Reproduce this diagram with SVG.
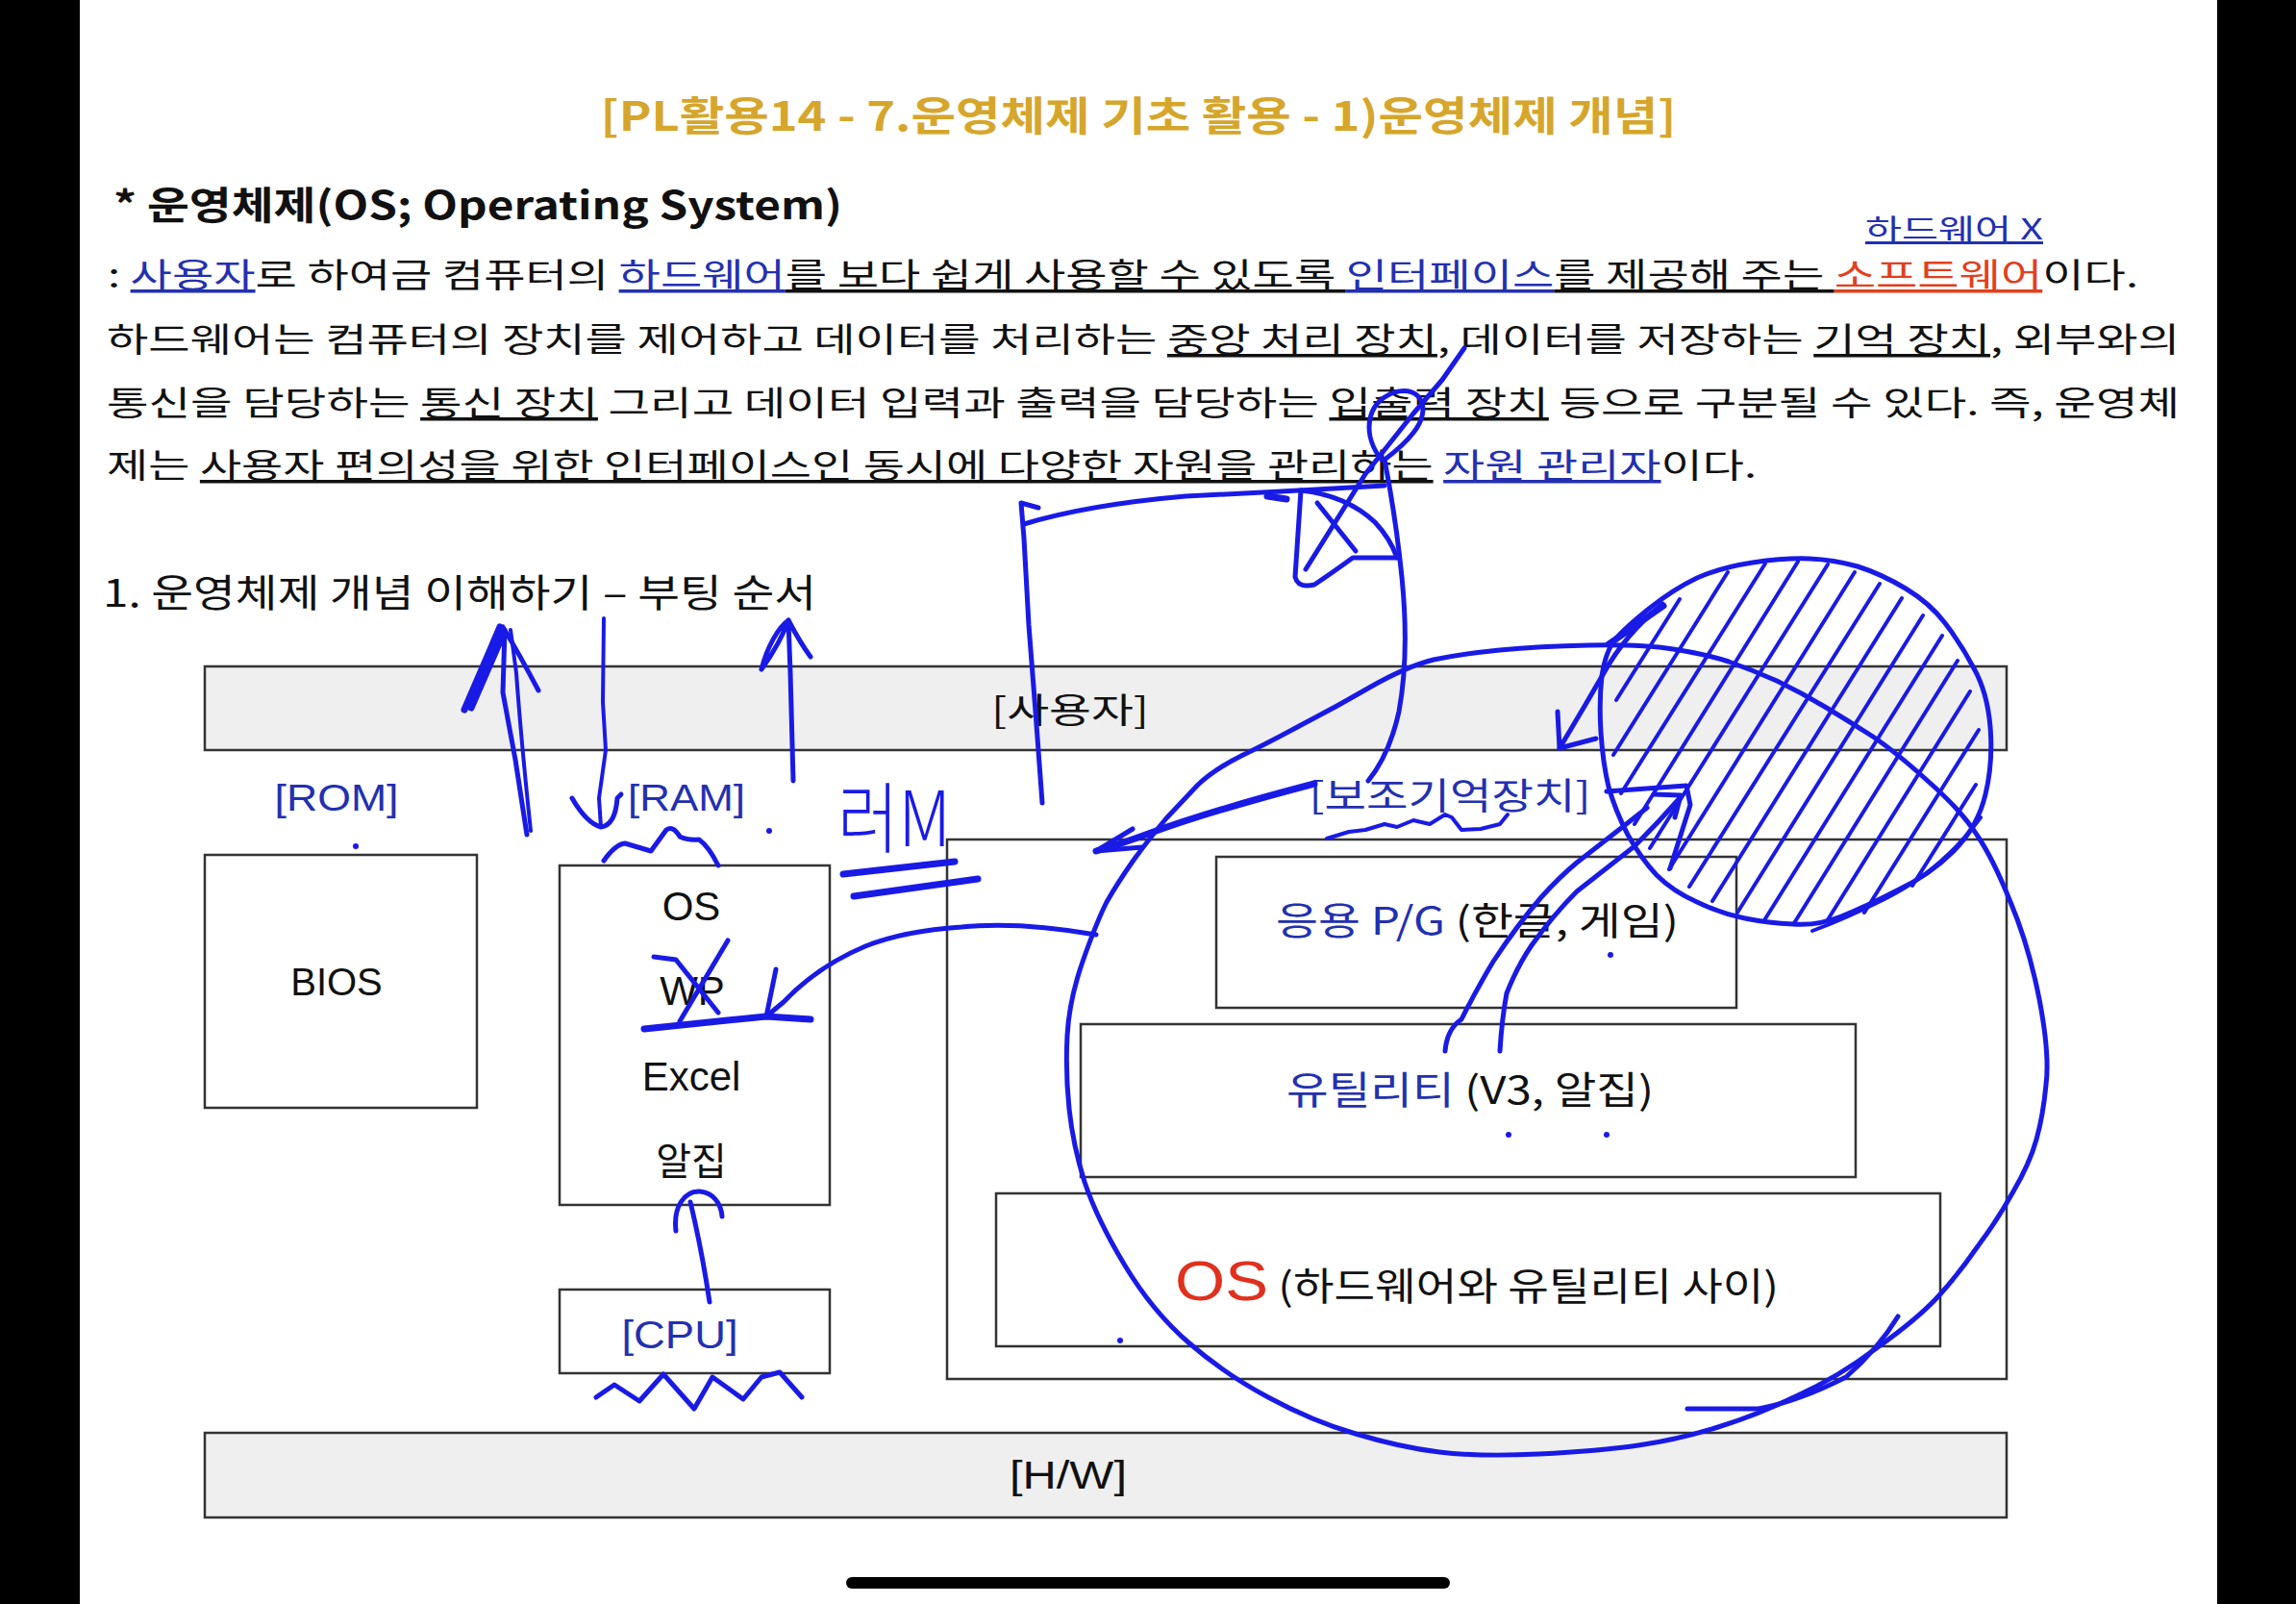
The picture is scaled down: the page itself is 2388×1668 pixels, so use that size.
<svg xmlns="http://www.w3.org/2000/svg" width="2388" height="1668" viewBox="0 0 2388 1668">
<style>
.kr{font-family:"Noto Sans CJK KR","Noto Sans",sans-serif;}
.lat{font-family:"Liberation Sans","Noto Sans CJK KR",sans-serif;}
.box{fill:#ffffff;stroke:#333333;stroke-width:2.5;}
.bar{fill:#efefef;stroke:#333333;stroke-width:2.5;}
.lbl{fill:#2330b0;}
.blk{fill:#111111;}
.u{text-decoration:underline;}
.pen{fill:none;stroke:#1a1ae6;stroke-width:5;stroke-linecap:round;stroke-linejoin:round;}
.thick{stroke-width:7;}
.thin{stroke-width:4;}
.dot{fill:#1a1ae6;}
</style>
<rect x="0" y="0" width="2388" height="1668" fill="#ffffff"/>
<rect x="0" y="0" width="83" height="1668" fill="#000000"/>
<rect x="2306" y="0" width="82" height="1668" fill="#000000"/>

<g id="title">
<text class="kr" x="1184" y="136" text-anchor="middle" font-size="42" font-weight="700" fill="#d6a62c" textLength="1119" lengthAdjust="spacingAndGlyphs">[PL활용14 - 7.운영체제 기초 활용 - 1)운영체제 개념]</text>
</g>

<g id="heading">
<text class="kr blk" x="118" y="228" font-size="40" font-weight="700" textLength="758" lengthAdjust="spacingAndGlyphs">* 운영체제(OS; Operating System)</text>
<text class="kr u" x="1940" y="249" font-size="30" fill="#2330b0" textLength="185" lengthAdjust="spacingAndGlyphs">하드웨어 X</text>
</g>

<g id="paragraph" class="kr" font-size="35">
<text x="112" y="299" textLength="2112" lengthAdjust="spacingAndGlyphs" fill="#111"><tspan>: </tspan><tspan class="u" fill="#2330b0">사용자</tspan><tspan>로 하여금 컴퓨터의 </tspan><tspan class="u" fill="#2330b0">하드웨어</tspan><tspan class="u">를 보다 쉽게 사용할 수 있도록 </tspan><tspan class="u" fill="#2330b0">인터페이스</tspan><tspan class="u">를 제공해 주는 </tspan><tspan class="u" fill="#e0401e">소프트웨어</tspan><tspan>이다.</tspan></text>
<text x="111" y="366" textLength="2156" lengthAdjust="spacingAndGlyphs" fill="#111"><tspan>하드웨어는 컴퓨터의 장치를 제어하고 데이터를 처리하는 </tspan><tspan class="u">중앙 처리 장치</tspan><tspan>, 데이터를 저장하는 </tspan><tspan class="u">기억 장치</tspan><tspan>, 외부와의</tspan></text>
<text x="111" y="432" textLength="2156" lengthAdjust="spacingAndGlyphs" fill="#111"><tspan>통신을 담당하는 </tspan><tspan class="u">통신 장치</tspan><tspan> 그리고 데이터 입력과 출력을 담당하는 </tspan><tspan class="u">입출력 장치</tspan><tspan> 등으로 구분될 수 있다. 즉, 운영체</tspan></text>
<text x="111" y="497" textLength="1716" lengthAdjust="spacingAndGlyphs" fill="#111"><tspan>제는 </tspan><tspan class="u">사용자 편의성을 위한 인터페이스인 동시에 다양한 자원을 관리하는</tspan><tspan> </tspan><tspan class="u" fill="#2330b0">자원 관리자</tspan><tspan>이다.</tspan></text>
</g>

<g id="section">
<text class="kr blk" x="107" y="631" font-size="40" textLength="742" lengthAdjust="spacingAndGlyphs">1. 운영체제 개념 이해하기 – 부팅 순서</text>
</g>

<g id="user-bar">
<rect class="bar" x="213" y="693" width="1874" height="87"/>
<text class="kr blk" x="1113" y="752" font-size="36" text-anchor="middle" textLength="164" lengthAdjust="spacingAndGlyphs">[사용자]</text>
</g>

<g id="rom">
<text class="lat lbl" x="350" y="843" font-size="38" text-anchor="middle" textLength="129" lengthAdjust="spacingAndGlyphs">[ROM]</text>
<rect class="box" x="213" y="889" width="283" height="263"/>
<text class="lat blk" x="350" y="1035" font-size="40" text-anchor="middle">BIOS</text>
</g>

<g id="ram">
<text class="lat lbl" x="714" y="843" font-size="38" text-anchor="middle" textLength="122" lengthAdjust="spacingAndGlyphs">[RAM]</text>
<rect class="box" x="582" y="900" width="281" height="353"/>
<text class="lat blk" x="719" y="957" font-size="42" text-anchor="middle">OS</text>
<text class="lat blk" x="720" y="1045" font-size="42" text-anchor="middle">WP</text>
<text class="lat blk" x="719" y="1134" font-size="42" text-anchor="middle">Excel</text>
<text class="kr blk" x="719" y="1222" font-size="40" text-anchor="middle">알집</text>
</g>

<g id="cpu">
<rect class="box" x="582" y="1341" width="281" height="87"/>
<text class="lat lbl" x="707" y="1402" font-size="40" text-anchor="middle" textLength="121" lengthAdjust="spacingAndGlyphs">[CPU]</text>
</g>

<g id="storage">
<text class="kr lbl" x="1508" y="841" font-size="38" text-anchor="middle" textLength="293" lengthAdjust="spacingAndGlyphs">[보조기억장치]</text>
<rect class="box" x="985" y="873" width="1102" height="561"/>
</g>

<g id="app">
<rect class="box" x="1265" y="891" width="541" height="157"/>
<text class="kr" x="1327" y="972" font-size="40" textLength="419" lengthAdjust="spacingAndGlyphs"><tspan fill="#2330b0">응용 P/G </tspan><tspan fill="#111">(한글, 게임)</tspan></text>
</g>

<g id="utility">
<rect class="box" x="1124" y="1065" width="806" height="159"/>
<text class="kr" x="1338" y="1148" font-size="40" textLength="382" lengthAdjust="spacingAndGlyphs"><tspan fill="#2330b0">유틸리티 </tspan><tspan fill="#111">(V3, 알집)</tspan></text>
</g>

<g id="os">
<rect class="box" x="1036" y="1241" width="982" height="159"/>
<text x="1222" y="1352" textLength="628" lengthAdjust="spacingAndGlyphs"><tspan class="lat" font-size="58" fill="#e0301e">OS</tspan><tspan class="kr" font-size="40" fill="#111"> (하드웨어와 유틸리티 사이)</tspan></text>
</g>

<g id="hw-bar">
<rect class="bar" x="213" y="1490" width="1874" height="88"/>
<text class="lat blk" x="1111" y="1548" font-size="40" text-anchor="middle" textLength="122" lengthAdjust="spacingAndGlyphs">[H/W]</text>
</g>

<g id="annotations">
<!-- arrows near ROM/RAM -->
<path class="pen" d="M548,868 L536,790 L523,720 L525,655"/>
<path class="pen thin" d="M552,864 Q542,770 537,700 L531,655"/>
<path class="pen thick" d="M483,738 L520,652 M490,736 L524,658"/>
<path class="pen" d="M523,652 Q540,680 560,718"/>
<path class="pen thin" d="M628,643 L627,730 L630,780 L623,830 L625,860"/>
<path class="pen" d="M595,830 Q610,856 625,860 Q640,858 642,830 L646,826"/>
<path class="pen" d="M825,812 L822,700 L820,645"/>
<path class="pen" d="M792,696 C798,672 810,652 820,645 C814,662 802,682 792,696 M820,645 Q832,668 843,683"/>
<path class="pen" d="M628,895 Q640,878 650,877 Q660,880 677,885 Q688,870 693,863 Q700,858 707,870 Q715,874 727,873 Q737,880 747,900"/>
<text class="kr" x="871" y="880" font-size="80" font-weight="300" fill="#1a1ae6" textLength="118" lengthAdjust="spacingAndGlyphs">러M</text>
<path class="pen thick" d="M877,909 L993,896"/>
<path class="pen thick" d="M888,932 L1017,914"/>
<!-- WP cross and arrow -->
<path class="pen" d="M680,995 L703,998 L747,1053"/>
<path class="pen" d="M757,978 L707,1062"/>
<path class="pen thick" d="M670,1070 L747,1062 L797,1057 L843,1060"/>
<path class="pen" d="M1140,972 Q1060,958 1000,964 Q940,968 900,984 Q850,1005 815,1042 L797,1057"/>
<path class="pen" d="M807,1008 L797,1057"/>
<!-- CPU arrow and squiggle -->
<path class="pen" d="M738,1354 Q730,1300 718,1250"/>
<path class="pen" d="M703,1280 C700,1255 712,1238 728,1239 C742,1240 750,1252 751,1265"/>
<path class="pen" d="M620,1453 L639,1440 L665,1457 L690,1429 L722,1465 L741,1432 L773,1455 L792,1432 L811,1427 L834,1453"/>
<!-- funnel / X near top -->
<path class="pen" d="M1080,528 L1062,523 L1065,560 L1070,650 L1077,740 L1084,835"/>
<path class="pen" d="M1065,545 Q1130,525 1233,516 L1333,511 L1440,505"/>
<path class="pen thick" d="M1318,516 L1338,519"/>
<path class="pen" d="M1353,510 L1347,600 Q1350,612 1367,608 Q1385,596 1407,580 L1453,580"/>
<path class="pen" d="M1353,510 Q1400,515 1430,543 Q1446,560 1453,580"/>
<path class="pen" d="M1370,523 L1410,573"/>
<path class="pen" d="M1358,592 L1420,493 L1470,430 L1500,395 L1523,362"/>
<path class="pen" d="M1437,478 C1418,455 1418,420 1450,408 C1478,400 1490,425 1470,450 C1460,463 1448,472 1440,478"/>
<path class="pen" d="M1440,478 Q1452,540 1458,600 Q1466,680 1455,740 Q1445,785 1423,812"/>
<!-- storage arrow and squiggle -->
<path class="pen thick" d="M1367,815 Q1260,843 1197,866 Q1165,878 1140,885"/>
<path class="pen" d="M1178,862 L1140,885 L1188,881"/>
<path class="pen thin" d="M1380,872 L1403,865 L1420,863 L1440,857 L1453,860 L1470,853 L1487,857 L1503,847 L1510,850 L1520,863 L1540,862 L1560,857 L1568,847"/>
<path class="pen" d="M1671,823 L1754,817 L1758,837 L1737,903"/>
<path class="pen" d="M1503,1093 Q1505,1070 1520,1060 Q1535,1030 1553,1000 Q1578,962 1603,933 Q1622,912 1640,897 Q1680,866 1713,840"/>
<path class="pen" d="M1560,1093 Q1562,1060 1567,1033 Q1578,1005 1593,983 Q1615,952 1640,927 Q1672,902 1700,880 Q1725,855 1747,830"/>
<path class="pen" d="M1720,826 L1748,827 L1742,850"/>
<!-- arrow into hatched circle region -->
<path class="pen" d="M1729,628 Q1690,660 1668,700 Q1645,740 1622,778"/>
<path class="pen" d="M1620,740 L1622,778 L1660,768"/>
<!-- big loop -->
<path class="pen" d="M1110,1077 Q1112,1040 1126,1000 Q1140,960 1151,938 Q1163,917 1180,893 Q1197,870 1213,851 Q1230,833 1246,816 Q1263,800 1291,786 Q1320,772 1355,753 Q1390,735 1426,714 Q1463,693 1491,686 Q1520,680 1560,676 Q1600,672 1653,671 Q1707,670 1740,675 Q1773,680 1798,688 Q1823,697 1848,708 Q1873,720 1898,735 Q1923,750 1948,766 Q1973,783 2006,813 Q2040,843 2056,868 Q2073,893 2091,938 Q2110,983 2121,1039 Q2132,1096 2128,1128 Q2125,1160 2118,1185 Q2111,1210 2094,1239 Q2078,1268 2057,1296 Q2037,1325 2016,1348 Q1995,1371 1953,1401 Q1912,1432 1870,1451 Q1829,1471 1787,1484 Q1746,1497 1704,1503 Q1663,1509 1601,1512 Q1539,1515 1497,1510 Q1456,1505 1410,1491 Q1365,1478 1319,1453 Q1274,1429 1236,1396 Q1199,1364 1170,1316 Q1141,1268 1128,1229 Q1116,1191 1112,1153 Q1108,1115 1110,1077"/>
<path class="pen" d="M1755,1465 L1829,1465 Q1871,1457 1920,1432 Q1954,1402 1974,1369"/>
<!-- hatched circle -->
<path class="pen" d="M1666,703 Q1670,677 1680,665 Q1690,653 1715,633 Q1740,613 1765,601 Q1790,590 1823,585 Q1857,580 1882,581 Q1907,582 1932,589 Q1957,597 1982,612 Q2007,627 2023,648 Q2040,670 2053,695 Q2067,720 2070,756 Q2073,793 2065,826 Q2057,860 2032,885 Q2007,910 1973,926 Q1940,943 1915,953 Q1890,963 1865,961 Q1840,960 1815,955 Q1790,950 1765,938 Q1740,927 1723,910 Q1707,893 1693,868 Q1680,843 1673,818 Q1667,793 1665,761 Q1663,730 1666,703"/>
<path class="pen thick" d="M1673,670 L1730,630"/>
<path class="pen thin" d="M2060,850 Q2020,905 1960,935 Q1920,955 1885,968"/>
<g class="pen thin">
<path d="M1681,728 L1747,623"/>
<path d="M1678,785 L1797,595"/>
<path d="M1686,825 L1836,586"/>
<path d="M1700,857 L1870,584"/>
<path d="M1716,882 L1901,587"/>
<path d="M1736,904 L1929,595"/>
<path d="M1757,922 L1955,607"/>
<path d="M1781,937 L1978,622"/>
<path d="M1807,949 L2000,640"/>
<path d="M1835,957 L2020,661"/>
<path d="M1866,960 L2036,687"/>
<path d="M1900,958 L2049,719"/>
<path d="M1939,949 L2058,759"/>
<path d="M1989,921 L2055,816"/>
</g>
<circle class="dot" cx="370" cy="880" r="3"/>
<circle class="dot" cx="800" cy="864" r="3"/>
<circle class="dot" cx="1675" cy="993" r="3"/>
<circle class="dot" cx="1569" cy="1180" r="3"/>
<circle class="dot" cx="1671" cy="1180" r="3"/>
<circle class="dot" cx="1165" cy="1394" r="3"/>
</g>

<rect x="880" y="1640" width="628" height="12" rx="6" fill="#000000"/>
</svg>
